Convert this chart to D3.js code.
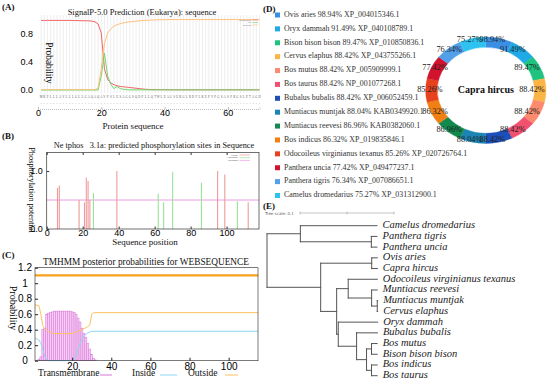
<!DOCTYPE html>
<html lang="en">
<head>
<meta charset="UTF-8">
<title>protein figure</title>
<script src="https://cdn.jsdelivr.net/npm/d3@7"></script>
<style>
  body { margin: 0; background: #fff; }
  svg { display: block; font-family: "Liberation Serif", "Times New Roman", serif; }
</style>
</head>
<body>
<div id="chart"></div>
<script>
// ---------- data ----------
// (A) SignalP-5.0, residues 1..70
const seqA = "MKPLLLAVLLLGLLGAQAQAVPSLESAGGSQDPLLQTWLEAGSEKGLRDFLKEPVPGSASPRGSLPTAGH";
const posA = d3.range(1, 71);
const spA = [0.98, 0.98, 0.98, 0.98, 0.98, 0.98, 0.98, 0.98, 0.98, 0.98,
  0.978, 0.978, 0.977, 0.976, 0.975, 0.974, 0.97, 0.96, 0.93, 0.8,
  0.3, 0.15, 0.1, 0.075, 0.06, 0.05, 0.045, 0.04, 0.035, 0.03,
  0.025, 0.02, 0.015, 0.01, 0.008, 0.006, 0.005, 0.005, 0.004, 0.004,
  0.003, 0.003, 0.003, 0.003, 0.003, 0.003, 0.003, 0.003, 0.003, 0.003,
  0.003, 0.003, 0.003, 0.003, 0.003, 0.003, 0.003, 0.003, 0.003, 0.003,
  0.003, 0.003, 0.003, 0.003, 0.003, 0.003, 0.003, 0.003, 0.003, 0.003];
const csA = [0, 0, 0, 0, 0, 0, 0, 0, 0, 0,
  0, 0, 0, 0, 0, 0, 0, 0, 0, 0.2,
  0.52, 0.2, 0.08, 0.02, 0.05, 0.02, 0.01, 0.005, 0.002, 0.002,
  0.002, 0.002, 0.002, 0.002, 0.002, 0.002, 0.002, 0.002, 0.002, 0.002,
  0.002, 0.002, 0.002, 0.002, 0.002, 0.002, 0.002, 0.002, 0.002, 0.002,
  0.002, 0.002, 0.002, 0.002, 0.002, 0.002, 0.002, 0.002, 0.002, 0.002,
  0.002, 0.002, 0.002, 0.002, 0.002, 0.002, 0.002, 0.002, 0.002, 0.002];
const otherA = [0.005, 0.005, 0.005, 0.005, 0.005, 0.005, 0.005, 0.005, 0.005, 0.005,
  0.005, 0.005, 0.005, 0.005, 0.005, 0.005, 0.005, 0.005, 0.03, 0.3,
  0.65, 0.8, 0.86, 0.9, 0.92, 0.935, 0.945, 0.955, 0.96, 0.965,
  0.97, 0.975, 0.978, 0.98, 0.983, 0.985, 0.987, 0.989, 0.99, 0.99,
  0.992, 0.992, 0.992, 0.992, 0.992, 0.992, 0.992, 0.992, 0.992, 0.992,
  0.992, 0.992, 0.992, 0.992, 0.992, 0.992, 0.992, 0.992, 0.992, 0.992,
  0.992, 0.992, 0.992, 0.992, 0.992, 0.992, 0.992, 0.992, 0.992, 0.992];
const legendA = ["SP(Sec/SPI)", "CS", "OTHER"];
const xTicksA = [0, 20, 40, 60];
const yTicksA = [0, 0.4, 0.8];

// (B) NetPhos 3.1a
const serinePos = [6, 7, 18, 21, 22, 23, 24, 39, 95, 99, 112];
const serineVal = [0.71, 0.75, 0.5, 0.46, 0.89, 0.83, 0.5, 1.0, 1.0, 0.94, 0.46];
const threoninePos = [26, 62, 65, 70, 86, 106];
const threonineVal = [0.62, 0.61, 0.46, 0.99, 0.8, 0.48];
const thresholdB = 0.5;
const legendB = ["Serine", "Threonine", "Threshold"];
const xTicksB = [0, 20, 40, 60, 80, 100];
const yTicksB = [0, 1];

// (C) TMHMM
const tmPos = d3.range(3, 33);
const tmProb = [0.02, 0.05, 0.4, 0.42, 0.6, 0.61, 0.62, 0.63, 0.64, 0.64,
  0.64, 0.64, 0.64, 0.64, 0.64, 0.64, 0.64, 0.63, 0.62, 0.6,
  0.55, 0.5, 0.42, 0.35, 0.3, 0.22, 0.15, 0.08, 0.03, 0.01];
const insidePos = [1, 3, 4, 5, 6, 7, 8, 20, 21, 22, 23, 24, 25, 26, 28, 30, 115];
const insideProb = [0.29, 0.27, 0.22, 0.15, 0.05, 0.01, 0, 0, 0.02, 0.06, 0.15, 0.22, 0.27, 0.32, 0.36, 0.38, 0.38];
const outsidePos = [1, 3, 4, 5, 6, 8, 10, 20, 22, 25, 28, 29, 30, 31, 115];
const outsideProb = [0.72, 0.71, 0.6, 0.45, 0.41, 0.38, 0.35, 0.35, 0.37, 0.4, 0.44, 0.46, 0.6, 0.62, 0.62];
const topologyPos = [1, 115];
const topologyVal = [1.1, 1.1];
const xTicksC = [20, 40, 60, 80, 100];
const yTicksC = [0, 0.2, 0.4, 0.6, 0.8, 1, 1.2];

// (D) identity ring
const species = ["Ovis aries", "Oryx dammah", "Bison bison bison", "Cervus elaphus", "Bos mutus",
  "Bos taurus", "Bubalus bubalis", "Muntiacus muntjak", "Muntiacus reevesi", "Bos indicus",
  "Odocoileus virginianus texanus", "Panthera uncia", "Panthera tigris", "Camelus dromedarius"];
const identity = [98.94, 91.49, 89.47, 88.42, 88.42, 88.42, 88.42, 88.04, 86.96, 86.32, 85.26, 77.42, 76.34, 75.27];
const accession = ["XP_004015346.1", "XP_040108789.1", "XP_010850836.1", "XP_043755266.1", "XP_005909999.1",
  "NP_001077268.1", "XP_006052459.1", "KAB0349920.1", "KAB0382060.1", "XP_019835846.1",
  "XP_020726764.1", "XP_049477237.1", "XP_007086651.1", "XP_031312900.1"];
const ringColors = ["#3a8fe4", "#1fa9e6", "#1fc27e", "#fbb547", "#fb8a6e", "#f2506f", "#1c4fb8",
  "#1b84b4", "#138a4d", "#f17f14", "#e7411d", "#d2132e", "#529fea", "#2dc2f0"];

// (E) tree, branch lengths
const tree = {len: 0, children: [
  {len: 0.0355, children: [
    {name: "Camelus dromedarius", len: 0.0815},
    {len: 0.0755, children: [{name: "Panthera tigris", len: 0.006}, {name: "Panthera uncia", len: 0.006}]}
  ]},
  {len: 0.0571, children: [
    {len: 0.0543, children: [{name: "Ovis aries", len: 0.006}, {name: "Capra hircus", len: 0.006}]},
    {len: 0.017, children: [
      {len: 0.0123, children: [
        {name: "Odocoileus virginianus texanus", len: 0.031},
        {len: 0.0249, children: [
          {name: "Muntiacus reevesi", len: 0.006},
          {len: 0.006, children: [{name: "Muntiacus muntjak", len: 0.0004}, {name: "Cervus elaphus", len: 0.0004}]}
        ]}
      ]},
      {len: 0.0017, children: [
        {name: "Oryx dammah", len: 0.0419},
        {len: 0.0195, children: [
          {name: "Bubalus bubalis", len: 0.0222},
          {len: 0.0106, children: [
            {len: 0.0053, children: [{name: "Bos mutus", len: 0.006}, {name: "Bison bison bison", len: 0.006}]},
            {len: 0.0053, children: [{name: "Bos indicus", len: 0.006}, {name: "Bos taurus", len: 0.006}]}
          ]}
        ]}
      ]}
    ]}
  ]}
]};
const treeScaleLen = 0.1;

// ---------- drawing ----------
const W = 550, H = 383;
const svg = d3.select("#chart").append("svg").attr("width", W).attr("height", H);

function label(g, x, y, txt, size, opts) {
  opts = opts || {};
  return g.append("text").attr("x", x).attr("y", y).text(txt)
    .attr("font-size", size).attr("dominant-baseline", "middle")
    .attr("text-anchor", opts.anchor || "start")
    .attr("font-weight", opts.bold ? "bold" : null)
    .attr("font-style", opts.italic ? "italic" : null)
    .attr("fill", opts.fill || "#111");
}

// panel letters
[["(A)", 2, 8], ["(B)", 2, 137], ["(C)", 2, 256], ["(D)", 263, 10], ["(E)", 263, 207]].forEach(d => {
  label(svg, d[1], d[2], d[0], 9, {bold: true});
});

// ===== (A) =====
const gA = svg.append("g");
const xA = d3.scaleLinear().domain([0, 70]).range([38, 259.5]);
const yA = d3.scaleLinear().domain([0, 1]).range([90, 19]);

gA.selectAll("line.grid").data(posA).join("line").attr("class", "grid")
  .attr("x1", d => xA(d)).attr("x2", d => xA(d))
  .attr("y1", 15).attr("y2", 93)
  .attr("stroke", "#e2e2e2").attr("stroke-width", 0.6);

const lineA = d3.line().x((d, i) => xA(posA[i])).y(d => yA(d));
const colorsA = ["#f06464", "#6cd86c", "#ffbf7a"];
[spA, csA, otherA].forEach((s, k) => {
  gA.append("path").datum(s).attr("d", lineA).attr("fill", "none")
    .attr("stroke", colorsA[k]).attr("stroke-width", 1);
});

// sequence rows
gA.selectAll("text.seq").data(posA).join("text").attr("class", "seq")
  .attr("x", d => xA(d)).attr("y", 97).attr("text-anchor", "middle")
  .attr("dominant-baseline", "middle").attr("font-size", 3).attr("fill", "#555")
  .text(d => seqA[d - 1]);
gA.selectAll("text.seq2").data(posA).join("text").attr("class", "seq2")
  .attr("x", d => xA(d)).attr("y", 104).attr("text-anchor", "middle")
  .attr("dominant-baseline", "middle").attr("font-size", 3).attr("fill", "#555")
  .text("-");

const axAx = gA.append("g").attr("transform", "translate(0,109)")
  .call(d3.axisBottom(xA).tickValues(xTicksA).tickSize(-2).tickPadding(1));
axAx.select(".domain").attr("stroke", "#bbb").attr("stroke-dasharray", "1,1");
axAx.selectAll(".tick line").attr("stroke", "#bbb");
axAx.selectAll("text").attr("font-size", 9).attr("font-family", null);
const axAy = gA.append("g").attr("transform", "translate(39,0)")
  .call(d3.axisLeft(yA).tickValues(yTicksA).tickSize(0).tickPadding(6));
axAy.select(".domain").remove();
axAy.selectAll("text").attr("font-size", 9).attr("font-family", null);

label(gA, 142, 13, "SignalP-5.0 Prediction (Eukarya): sequence", 8.5, {anchor: "middle"});
label(gA, 133, 127, "Protein sequence", 9, {anchor: "middle"});
gA.append("text").attr("transform", "translate(48,63) rotate(90)")
  .attr("text-anchor", "middle").attr("dominant-baseline", "middle")
  .attr("font-size", 9.3).text("Probability");

legendA.forEach((t, i) => {
  const y = 20 + i * 2.5;
  label(gA, 251, y, t, 2.4, {anchor: "end", fill: "#444"});
  gA.append("line").attr("x1", 252.5).attr("x2", 258).attr("y1", y).attr("y2", y)
    .attr("stroke", colorsA[i]).attr("stroke-width", 0.6);
});

// ===== (B) =====
const gB = svg.append("g");
const xB = d3.scaleLinear().domain([0, 118]).range([46.7, 259]);
const yB = d3.scaleLinear().domain([0, 1.32]).range([229, 152.5]);

gB.append("line").attr("x1", xB(0)).attr("x2", xB(118))
  .attr("y1", yB(thresholdB)).attr("y2", yB(thresholdB))
  .attr("stroke", "#ee9be0").attr("stroke-width", 1);
gB.selectAll("line.ser").data(serinePos).join("line").attr("class", "ser")
  .attr("x1", d => xB(d)).attr("x2", d => xB(d))
  .attr("y1", yB(0)).attr("y2", (d, i) => yB(serineVal[i]))
  .attr("stroke", "#ee9a9a").attr("stroke-width", 1.1);
gB.selectAll("line.thr").data(threoninePos).join("line").attr("class", "thr")
  .attr("x1", d => xB(d)).attr("x2", d => xB(d))
  .attr("y1", yB(0)).attr("y2", (d, i) => yB(threonineVal[i]))
  .attr("stroke", "#97e497").attr("stroke-width", 1.1);

gB.append("rect").attr("x", xB(0)).attr("y", yB(1.32))
  .attr("width", xB(118) - xB(0)).attr("height", yB(0) - yB(1.32))
  .attr("fill", "none").attr("stroke", "#333").attr("stroke-width", 0.7);

const axBx = gB.append("g").attr("transform", `translate(0,${yB(0)})`)
  .call(d3.axisBottom(xB).tickValues(xTicksB).tickSize(-2.5).tickPadding(1));
axBx.select(".domain").remove();
axBx.selectAll("text").attr("font-size", 9).attr("font-family", null);
const axBt = gB.append("g").attr("transform", `translate(0,${yB(1.32)})`)
  .call(d3.axisTop(xB).tickValues(xTicksB).tickSize(-2.5).tickFormat(""));
axBt.select(".domain").remove();
const axBy = gB.append("g").attr("transform", `translate(${xB(0)},0)`)
  .call(d3.axisLeft(yB).tickValues(yTicksB).tickSize(-2.5).tickPadding(4));
axBy.select(".domain").remove();
axBy.selectAll("text").attr("font-size", 9).attr("font-family", null);
gB.selectAll(".tick line").attr("stroke", "#333");

label(gB, 154, 146, "Ne tphos   3.1a: predicted phosphorylation sites in Sequence", 8.3, {anchor: "middle"})
  .style("white-space", "pre");
label(gB, 145, 243, "Sequence position", 9, {anchor: "middle"});
gB.append("text").attr("transform", "translate(31,190) rotate(90)")
  .attr("text-anchor", "middle").attr("dominant-baseline", "middle")
  .attr("font-size", 8.3).text("Phosphorylation potential");

const colorsB = ["#ee9a9a", "#97e497", "#ee9be0"];
legendB.forEach((t, i) => {
  const y = 155 + i * 2.7;
  label(gB, 238, y, t, 2.6, {anchor: "end", fill: "#444"});
  gB.append("line").attr("x1", 239.5).attr("x2", 250).attr("y1", y).attr("y2", y)
    .attr("stroke", colorsB[i]).attr("stroke-width", 0.7);
});

// ===== (C) =====
const gC = svg.append("g");
const xC = d3.scaleLinear().domain([1, 115]).range([35, 258]);
const yC = d3.scaleLinear().domain([0, 1.2]).range([360.7, 267.7]);
const bw = xC(2) - xC(1);

gC.selectAll("rect.tm").data(tmPos).join("rect").attr("class", "tm")
  .attr("x", d => xC(d) - bw / 2).attr("width", bw)
  .attr("y", (d, i) => yC(tmProb[i])).attr("height", (d, i) => yC(0) - yC(tmProb[i]))
  .attr("fill", "#f6cdf4").attr("stroke", "#d774d8").attr("stroke-width", 0.5);

gC.append("path").datum(insideProb)
  .attr("d", d3.line().x((d, i) => xC(insidePos[i])).y(d => yC(d)))
  .attr("fill", "none").attr("stroke", "#8fd6f2").attr("stroke-width", 1);
gC.append("path").datum(outsideProb)
  .attr("d", d3.line().x((d, i) => xC(outsidePos[i])).y(d => yC(d)))
  .attr("fill", "none").attr("stroke", "#ffc25e").attr("stroke-width", 1);
gC.append("path").datum(topologyVal)
  .attr("d", d3.line().x((d, i) => xC(topologyPos[i])).y(d => yC(d)))
  .attr("fill", "none").attr("stroke", "#f7a11a").attr("stroke-width", 2.2);

gC.append("rect").attr("x", xC(1)).attr("y", yC(1.2))
  .attr("width", xC(115) - xC(1)).attr("height", yC(0) - yC(1.2))
  .attr("fill", "none").attr("stroke", "#222").attr("stroke-width", 0.6);

const axCx = gC.append("g").attr("transform", `translate(0,${yC(0)})`)
  .call(d3.axisBottom(xC).tickValues(xTicksC).tickSize(-3).tickPadding(2));
axCx.select(".domain").remove();
axCx.selectAll("text").attr("font-size", 10).attr("font-family", null);
const axCy = gC.append("g").attr("transform", `translate(${xC(1)},0)`)
  .call(d3.axisLeft(yC).tickValues(yTicksC).tickSize(-3).tickPadding(4).tickFormat(d3.format("~g")));
axCy.select(".domain").remove();
axCy.selectAll("text").attr("font-size", 10).attr("font-family", null)
  .attr("text-anchor", "middle").attr("x", -10);
gC.selectAll(".tick line").attr("stroke", "#222");

label(gC, 146, 263, "TMHMM posterior probabilities for WEBSEQUENCE", 9.3, {anchor: "middle"});
gC.append("text").attr("transform", "translate(12,308) rotate(90)")
  .attr("text-anchor", "middle").attr("dominant-baseline", "middle")
  .attr("font-size", 10).text("Probability");

const legendC = [["Transmembrane", 38, 100, 112, "#d774d8"], ["Inside", 132, 160, 177, "#8fd6f2"], ["Outside", 188, 225, 238, "#ffc25e"]];
legendC.forEach(d => {
  label(gC, d[1], 374, d[0], 9.5);
  gC.append("line").attr("x1", d[2]).attr("x2", d[3]).attr("y1", 375).attr("y2", 375)
    .attr("stroke", d[4]).attr("stroke-width", 1);
});

// ===== (D) =====
const gD = svg.append("g");
const rowY = d3.scaleLinear().domain([0, species.length - 1]).range([15, 195.5]);
species.forEach((s, i) => {
  gD.append("rect").attr("x", 275).attr("y", rowY(i) - 2.5).attr("width", 5).attr("height", 5)
    .attr("fill", ringColors[i]);
  label(gD, 284, rowY(i), `${s} ${identity[i].toFixed(2)}% ${accession[i]}`, 7.9, {fill: "#333"});
});

const cx = 485.8, cy = 90.3, sx = 1.13;
const pie = d3.pie().value(1).sort(null);
const arcs = pie(identity);
const arc = d3.arc().innerRadius(43).outerRadius(53.3);
const ring = gD.append("g").attr("transform", `translate(${cx},${cy}) scale(${sx},1)`);
ring.selectAll("path").data(arcs).join("path").attr("d", arc)
  .attr("fill", (d, i) => ringColors[i]).attr("stroke", (d, i) => ringColors[i]).attr("stroke-width", 0.3);
// percentage labels sit on a circle slightly left of the ring centre
const labArc = d3.arc().innerRadius(51).outerRadius(51);
arcs.forEach(a => {
  const c = labArc.centroid(a);
  label(gD, 481 + c[0], 90 + c[1], a.data.toFixed(2) + "%", 8.3, {anchor: "middle", fill: "#222"});
});
label(gD, cx, cy, "Capra hircus", 10, {anchor: "middle", bold: true});

// ===== (E) =====
const gE = svg.append("g");
const root = d3.hierarchy(tree);
root.eachBefore(n => { n.depthLen = (n.parent ? n.parent.depthLen : 0) + (n.data.len || 0); });
const leaves = root.leaves();
const xE = d3.scaleLinear().domain([0, 1]).range([267, 267 + 940]);
const yE = d3.scaleLinear().domain([0, leaves.length - 1]).range([225.7, 375.7]);
leaves.forEach((l, i) => { l.yPos = yE(i); });
root.eachAfter(n => {
  if (n.children) n.yPos = (n.children[0].yPos + n.children[n.children.length - 1].yPos) / 2;
});
const edges = [];
root.each(n => {
  if (n.children) {
    edges.push([xE(n.depthLen), n.children[0].yPos, xE(n.depthLen), n.children[n.children.length - 1].yPos]);
    n.children.forEach(c => edges.push([xE(n.depthLen), c.yPos, xE(c.depthLen), c.yPos]));
  }
});
gE.selectAll("line.edge").data(edges).join("line").attr("class", "edge")
  .attr("x1", d => d[0]).attr("y1", d => d[1]).attr("x2", d => d[2]).attr("y2", d => d[3])
  .attr("stroke", "#555").attr("stroke-width", 1).attr("stroke-linecap", "square");
leaves.forEach(l => {
  label(gE, xE(l.depthLen) + 5.5, l.yPos, l.data.name, 10.5, {italic: true, fill: "#222"});
});

// tree scale bar
const sb0 = 300;
gE.append("line").attr("x1", sb0).attr("x2", sb0 + xE(treeScaleLen) - xE(0)).attr("y1", 213).attr("y2", 213)
  .attr("stroke", "#888").attr("stroke-width", 0.5);
[0, 0.5, 1].forEach(f => {
  const x = sb0 + (xE(treeScaleLen) - xE(0)) * f;
  gE.append("line").attr("x1", x).attr("x2", x).attr("y1", 211.5).attr("y2", 214.5)
    .attr("stroke", "#888").attr("stroke-width", 0.5);
});
gE.append("text").attr("x", 265).attr("y", 213.5).attr("font-size", 4).attr("fill", "#666")
  .attr("dominant-baseline", "middle").attr("font-family", "DejaVu Sans").text("Tree scale: 0.1");
</script>
</body>
</html>
